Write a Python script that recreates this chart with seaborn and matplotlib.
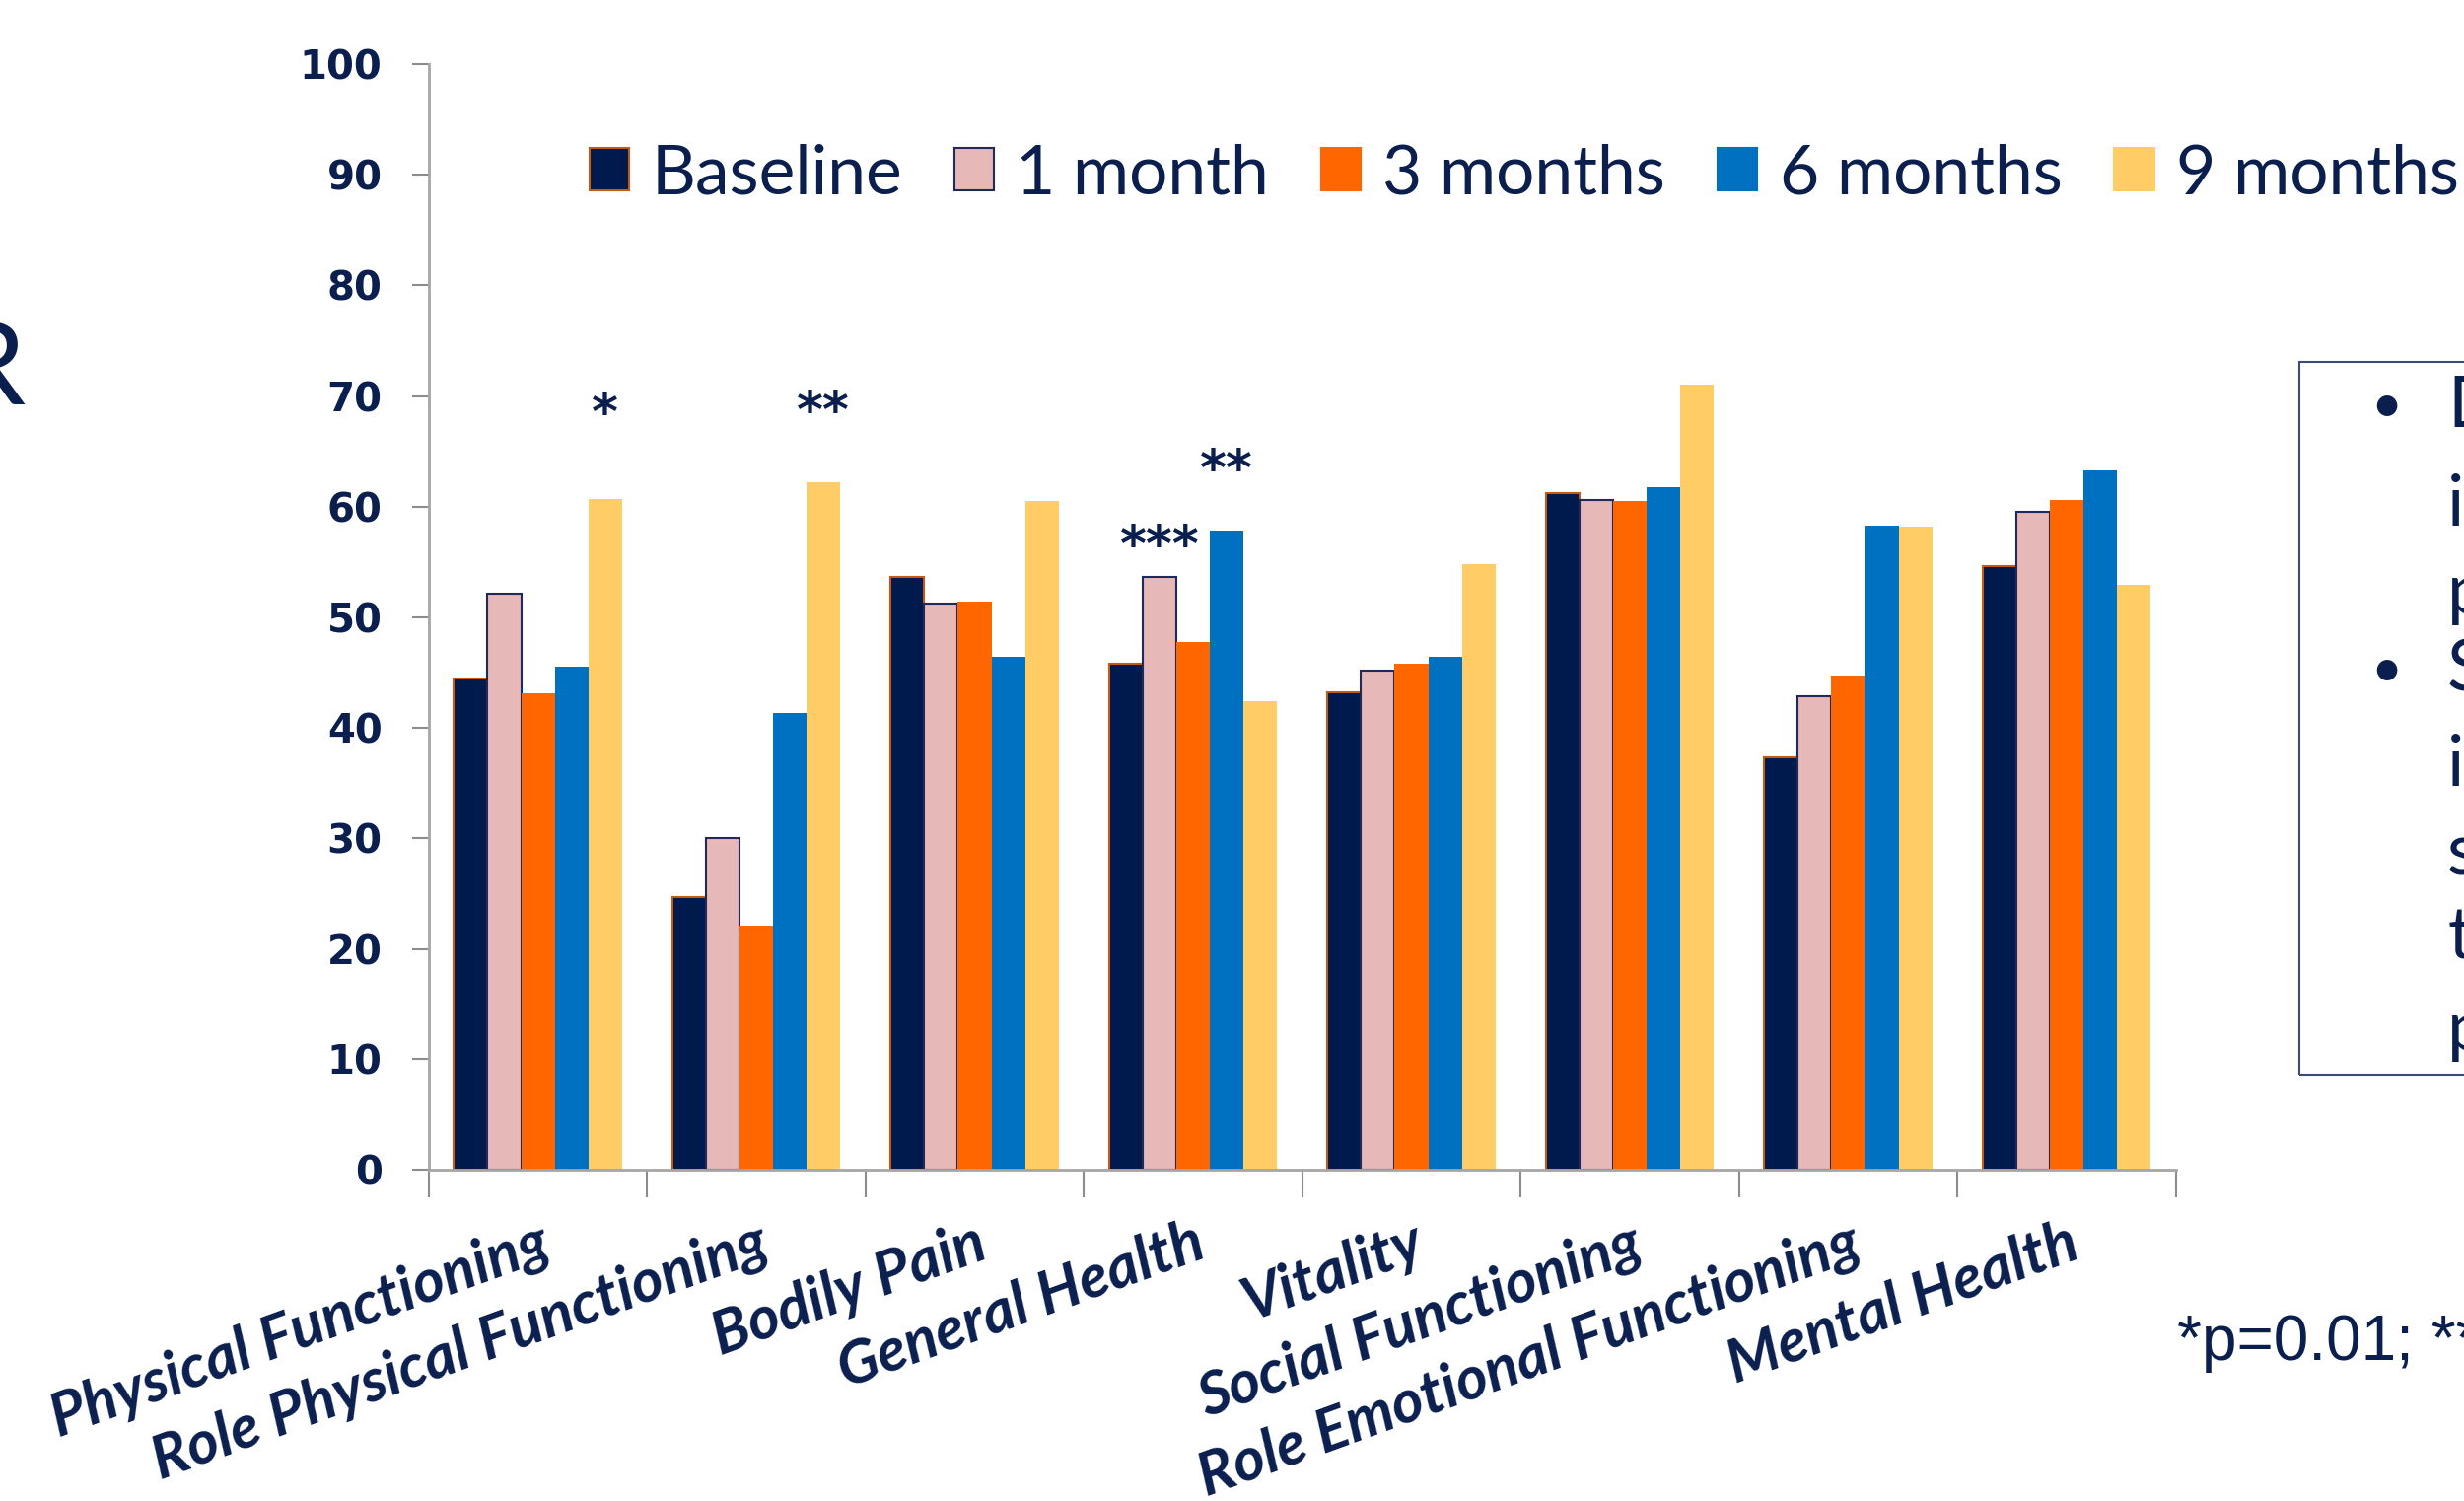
import numpy as np
import pandas as pd
import seaborn as sns
import matplotlib.pyplot as plt
from matplotlib.patches import Patch, Rectangle

# data
categories = ['Physical Functioning', 'Role Physical Functioning', 'Bodily Pain',
              'General Health', 'Vitality', 'Social Functioning',
              'Role Emotional Functioning', 'Mental Health']
series = ['Baseline', '1 month', '3 months', '6 months', '9 months']
baseline = [44.4, 24.6, 53.6, 45.8, 43.2, 61.2, 37.3, 54.6]
month_1 = [52.1, 30.0, 51.2, 53.6, 45.1, 60.6, 42.8, 59.5]
month_3 = [43.1, 22.0, 51.4, 47.7, 45.8, 60.5, 44.7, 60.6]
month_6 = [45.5, 41.3, 46.4, 57.8, 46.4, 61.7, 58.3, 63.3]
month_9 = [60.7, 62.2, 60.5, 42.4, 54.8, 71.0, 58.2, 52.9]
y_ticks = [0, 10, 20, 30, 40, 50, 60, 70, 80, 90, 100]

# significance marks: category, series, label
star_cats = ['Physical Functioning', 'Role Physical Functioning', 'General Health', 'General Health']
star_series = ['9 months', '9 months', '1 month', '6 months']
star_labels = ['*', '**', '***', '**']

footnote = '*p=0.01; **p'
side_letters = ['D', 'i', 'p', 'S', 'i', 's', 't', 'p']

colors = ['#001A4E', '#E6B8B7', '#FF6600', '#0070C0', '#FFCC66']
edges = ['#C55A11', '#1F2A5A', 'none', 'none', 'none']
navy = '#0B1F4F'

df = pd.DataFrame({'category': categories, 'Baseline': baseline, '1 month': month_1,
                   '3 months': month_3, '6 months': month_6, '9 months': month_9})
df = df.melt(id_vars='category', var_name='series', value_name='score')

sns.set_style('white')
plt.rcParams['font.family'] = ['Lato', 'DejaVu Sans']

fig = plt.figure(figsize=(24.99, 15.22), dpi=100)
ax = fig.add_axes([0.174, 0.221, 0.709, 0.736])

sns.barplot(data=df, x='category', y='score', hue='series', order=categories,
            hue_order=series, palette=colors, width=0.77, saturation=1,
            errorbar=None, ax=ax, legend=False)

for cont, ec in zip(ax.containers, edges):
    for bar in cont:
        bar.set_edgecolor(ec)
        bar.set_linewidth(1.5 if ec != 'none' else 0)

# stars over the bars
star_offsets = [51, 40, 12, 33]
for cat, ser, lab, off in zip(star_cats, star_series, star_labels, star_offsets):
    bar = ax.containers[series.index(ser)][categories.index(cat)]
    ax.annotate(lab, (bar.get_x() + bar.get_width() / 2, bar.get_height()),
                xytext=(0, off), textcoords='offset points', ha='center',
                va='baseline', fontsize=37, fontweight='bold', color=navy,
                family='DejaVu Sans')

ax.set_ylim(0, 100)
ax.set_xlim(-0.5, len(categories) - 0.5)
ax.set_yticks(y_ticks)
ax.set_yticklabels([str(t) for t in y_ticks], fontsize=29, fontweight='bold',
                   color=navy, family='DejaVu Sans')
ax.tick_params(axis='y', left=True, length=12, width=1.5, color='#8C8C8C', pad=22)

ax.set_xticks(np.arange(len(categories) + 1) - 0.5)
ax.set_xticklabels([])
ax.set_xticks(np.arange(len(categories)), minor=True)
ax.set_xticklabels(categories, minor=True, rotation=20, ha='right',
                   rotation_mode='anchor', fontsize=44, fontweight='bold',
                   fontstyle='italic', color=navy)
ax.tick_params(axis='x', which='major', bottom=True, length=20, width=1.5, color='#8C8C8C')
ax.tick_params(axis='x', which='minor', bottom=False, length=0, pad=33)
ax.set_xlabel('')
ax.set_ylabel('')

sns.despine(ax=ax)
for sp in ['left', 'bottom']:
    ax.spines[sp].set_color('#A6A6A6')
    ax.spines[sp].set_linewidth(2)

handles = [Patch(facecolor=c, edgecolor=(e if e != 'none' else c), linewidth=1.5, label=s)
           for c, e, s in zip(colors, edges, series)]
fig.legend(handles=handles, loc='center left', bbox_to_anchor=(0.2393, 0.884),
           ncol=5, frameon=False, fontsize=50, handlelength=0.58, handleheight=0.58,
           handletextpad=0.32, columnspacing=0.76, borderpad=0, borderaxespad=0,
           labelcolor=navy)

# pieces of the surrounding slide
fig.text(0.010, 0.752, 'R', fontsize=84, color=navy, ha='right', va='center')
fig.text(0.8835, 0.105, footnote, fontsize=46, color=navy, family='Liberation Sans',
         va='center')
fig.patches.append(Rectangle((0.9332, 0.284), 0.1, 0.475, transform=fig.transFigure,
                             fill=False, edgecolor='#3B4A7A', linewidth=1.5))
for yb in [0.729, 0.553]:
    fig.text(0.9685, yb, '\u2022', fontsize=40, color=navy, va='center', ha='center')
for yl, letter in zip([0.729, 0.663, 0.605, 0.553, 0.490, 0.431, 0.375, 0.314], side_letters):
    fig.text(0.9932, yl, letter, fontsize=52, color=navy, va='center')

fig.savefig('out.png', dpi=100)
